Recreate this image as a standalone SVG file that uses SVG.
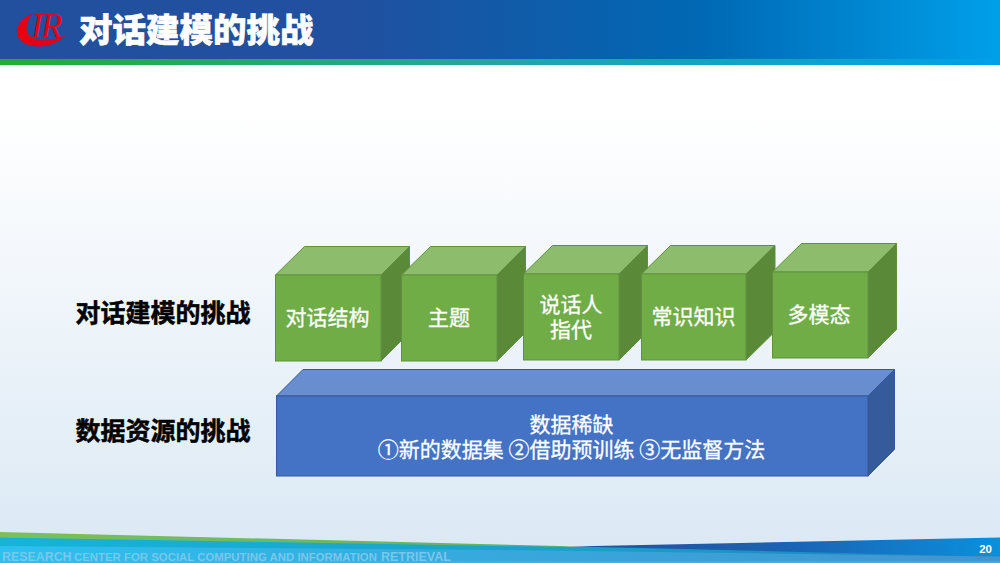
<svg xmlns="http://www.w3.org/2000/svg" width="1000" height="563" viewBox="0 0 1000 563">
<defs>
<linearGradient id="bg" x1="0" y1="0" x2="0" y2="1"><stop offset="0" stop-color="#ffffff"/><stop offset="0.2" stop-color="#ffffff"/><stop offset="1" stop-color="#dae8f4"/></linearGradient>
<linearGradient id="hd" x1="0" y1="0" x2="1" y2="0"><stop offset="0" stop-color="#22509f"/><stop offset="0.35" stop-color="#20509f"/><stop offset="0.7" stop-color="#0068b4"/><stop offset="1" stop-color="#00a0e9"/></linearGradient>
<linearGradient id="st" x1="0" y1="0" x2="1" y2="0"><stop offset="0" stop-color="#22ac38"/><stop offset="0.5" stop-color="#20a8a0"/><stop offset="1" stop-color="#00a0e9"/></linearGradient>
<linearGradient id="gw" x1="0" y1="0" x2="1" y2="0"><stop offset="0" stop-color="#7bc05a"/><stop offset="0.6" stop-color="#5cb36a"/><stop offset="1" stop-color="#2aa59a"/></linearGradient>
<linearGradient id="bw" gradientUnits="userSpaceOnUse" x1="570" y1="0" x2="1000" y2="0"><stop offset="0" stop-color="#20509f"/><stop offset="0.5" stop-color="#1b62b2"/><stop offset="1" stop-color="#0a90dc"/></linearGradient>
<linearGradient id="ft" x1="0" y1="0" x2="1" y2="0"><stop offset="0" stop-color="#2dc0ee"/><stop offset="0.5" stop-color="#37a8dc"/><stop offset="1" stop-color="#4394d0"/></linearGradient>
<linearGradient id="tl" x1="0" y1="0" x2="1" y2="0"><stop offset="0" stop-color="#16b4d8"/><stop offset="0.6" stop-color="#1aa0c8"/><stop offset="1" stop-color="#1a80c0"/></linearGradient>
</defs>
<style>
.t{font-family:"Noto Sans CJK SC","Liberation Sans",sans-serif}
.w{fill:#fff;font-size:21px;text-anchor:middle;stroke:#fff;stroke-width:.3px}
.b{fill:#000;font-size:25px;font-weight:700;text-anchor:middle;stroke:#000;stroke-width:.5px}
.f{font-family:"Liberation Sans",sans-serif;font-weight:700;fill:#78c8ec}
.gf{fill:#70ad47;stroke:#5f9140;stroke-width:1}
.gt{fill:#8dbd6c;stroke:#5f9140;stroke-width:1}
.gs{fill:#5a8a38;stroke:#5f9140;stroke-width:1}
.bf{fill:#4472c4;stroke:#34589a;stroke-width:1}
.bt{fill:#698ed0;stroke:#34589a;stroke-width:1}
.bs{fill:#365b9d;stroke:#34589a;stroke-width:1}
</style>
<rect id="background" width="1000" height="563" fill="url(#bg)"/>
<g id="header">
<rect width="1000" height="59" fill="url(#hd)"/>
<rect y="59" width="1000" height="6" fill="url(#st)"/>
<path d="M33 13C21 18 16 27 17 34C19 44 33 48 45 46C54 44 61 40 66 35C58 39 47 41 39 40C29 39 25 31 27 25C28 20 30 16 33 13Z" fill="#e60012"/>
<text x="31" y="38" font-family="'Liberation Serif',serif" font-style="italic" font-size="36" fill="#e60012">I</text>
<text x="41" y="38" font-family="'Liberation Serif',serif" font-style="italic" font-size="35" fill="#e60012">R</text>
<text class="t" x="79" y="42" font-size="33.500" font-weight="900" fill="#fff" stroke="#fff" stroke-width="0.6">对话建模的挑战</text>
</g>
<g id="footer">
<path d="M0 532L500 544.500L560 546L1000 563L0 563Z" fill="url(#gw)"/>
<path d="M0 537.500L500 546L570 547L1000 545L1000 563L0 563Z" fill="url(#tl)"/>
<path d="M570 546.500L1000 537.500L1000 556.500L800 552L640 548Z" fill="url(#bw)"/>
<path d="M0 546L500 550L1000 556.500L1000 563L0 563Z" fill="url(#ft)"/>
<path d="M0 561L1000 561L1000 563L0 563Z" fill="#4fb3e3" opacity="0.6"/>
<text class="f" x="2" y="561" font-size="12.400">RESEARCH</text>
<text class="f" x="74" y="561" font-size="11.400">CENTER FOR SOCIAL COMPUTING AND INFORMATION</text>
<text class="f" x="381" y="561" font-size="12.500">RETRIEVAL</text>
<text x="992" y="553" font-family="'Liberation Sans',sans-serif" font-weight="700" font-size="11.500" fill="#fff" text-anchor="end">20</text>
</g>
<text id="label-modeling" class="t b" x="163" y="322">对话建模的挑战</text>
<text id="label-data" class="t b" x="163" y="440">数据资源的挑战</text>
<g id="cube-dialog">
<path class="gt" d="M275.500 275L304.500 246.500L409.500 246.500L381 275Z"/><path class="gs" d="M381 275L409.500 246.500L409.500 332.500L381 361Z"/><rect class="gf" x="275.500" y="275" width="105.500" height="86"/>
<text class="t w" x="327.500" y="325">对话结构</text></g>
<g id="cube-topic">
<path class="gt" d="M401.500 275L430.500 246.500L525.500 246.500L497 275Z"/><path class="gs" d="M497 275L525.500 246.500L525.500 332.500L497 361Z"/><rect class="gf" x="401.500" y="275" width="95.500" height="86"/>
<text class="t w" x="449" y="325">主题</text></g>
<g id="cube-speaker">
<path class="gt" d="M523.500 274L552.500 245.500L647.500 245.500L619 274Z"/><path class="gs" d="M619 274L647.500 245.500L647.500 331.500L619 360Z"/><rect class="gf" x="523.500" y="274" width="95.500" height="86"/>
<text class="t w" y="312"><tspan x="571">说话人</tspan><tspan x="571" dy="25">指代</tspan></text></g>
<g id="cube-knowledge">
<path class="gt" d="M641.500 274L670.500 245.500L775 245.500L746 274Z"/><path class="gs" d="M746 274L775 245.500L775 331.500L746 360Z"/><rect class="gf" x="641.500" y="274" width="104.500" height="86"/>
<text class="t w" x="693.500" y="324">常识知识</text></g>
<g id="cube-multimodal">
<path class="gt" d="M772.500 272L801.500 243.500L896.500 243.500L868 272Z"/><path class="gs" d="M868 272L896.500 243.500L896.500 329.500L868 358Z"/><rect class="gf" x="772.500" y="272" width="95.500" height="86"/>
<text class="t w" x="819" y="322">多模态</text></g>
<g id="cube-data">
<path class="bt" d="M276.500 396L303 369.500L894.500 369.500L868 396Z"/><path class="bs" d="M868 396L894.500 369.500L894.500 449.500L868 476Z"/><rect class="bf" x="276.500" y="396" width="591.500" height="80"/>
<text class="t w" y="432"><tspan x="571.500">数据稀缺</tspan><tspan x="571.500" dy="24.500">①新的数据集 ②借助预训练 ③无监督方法</tspan></text></g>
<g id="connectors"/>
</svg>
